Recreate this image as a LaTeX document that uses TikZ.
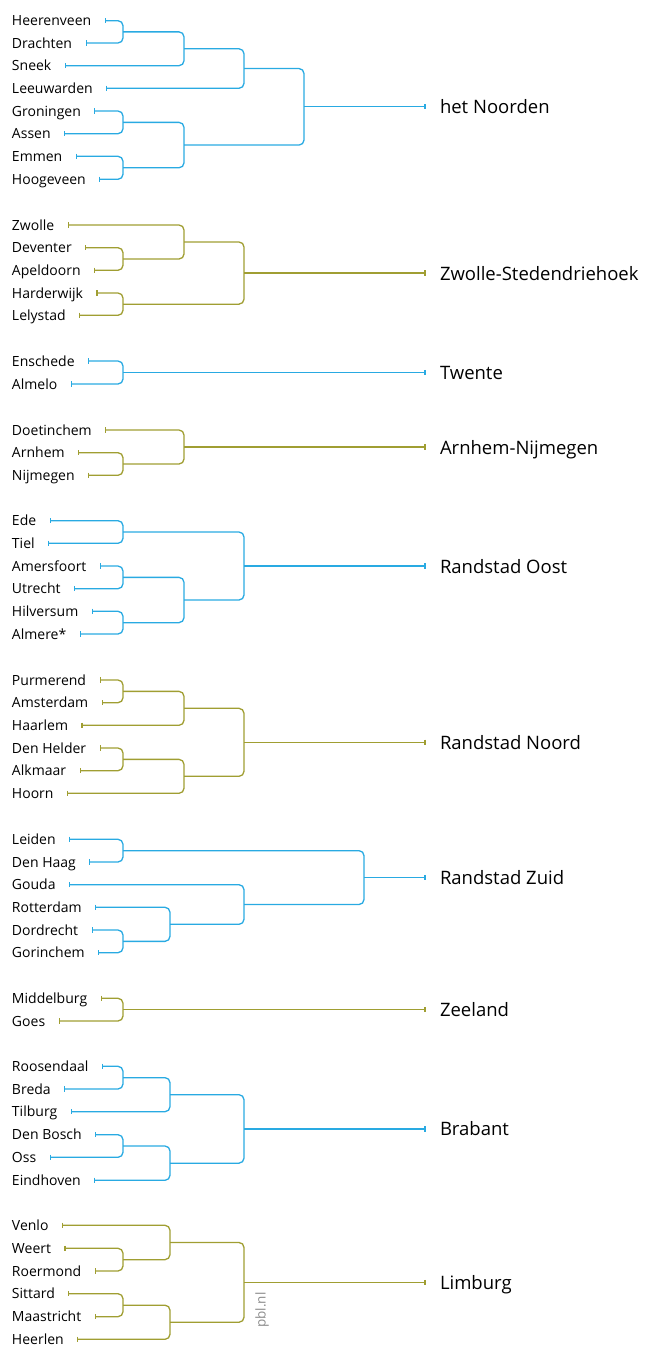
\documentclass[tikz,border=0pt]{standalone}
\usepackage{fontspec}
\setmainfont{Open Sans}
\usetikzlibrary{calc}
\definecolor{cb}{RGB}{41,170,226}
\definecolor{co}{RGB}{160,158,50}
\definecolor{wm}{RGB}{140,140,140}
\tikzset{
  leaf/.style={anchor=base west, inner sep=0pt, outer sep=0pt, text=black, font=\fontsize{14}{16}\selectfont},
  glabel/.style={anchor=base west, inner sep=0pt, outer sep=0pt, text=black, font=\fontsize{18.5}{20}\selectfont},
  conn/.style={line width=1.3pt, rounded corners=5pt},
  tickmark/.style={line width=1.1pt},
}
\newcommand\myleaf[3]{%
  \node[leaf] (#1) at (12,#2+5) {#3};
  \coordinate (#1y) at (0,#2);
  \coordinate (#1s) at ($(#1.east |- #1y)+(14,0)$);
  \draw[tickmark] ([yshift=2.6pt]#1s) -- ([yshift=-2.6pt]#1s);
}
\newcommand\mymerge[4]{%
  \coordinate (#1m) at ($(#3)!.5!(#4)$);
  \coordinate (#1) at (#1m -| #2);
  \draw[conn] (#3) -| (#1) |- (#4);
}
\newcommand\myroot[3]{%
  \coordinate (#1e) at (#1 -| c425);
  \draw[conn] (#1) -- (#1e);
  \draw[tickmark] ([yshift=2.6pt]#1e) -- ([yshift=-2.6pt]#1e);
  \node[glabel] (#2) at ($(#1e)+(15,7)$) {#3};
}
\begin{document}
\begin{tikzpicture}[x=1pt,y=-1pt]
\useasboundingbox (0,0) rectangle (657,1347);
\coordinate (c123) at (123,0);
\coordinate (c170) at (170,0);
\coordinate (c184) at (184,0);
\coordinate (c244) at (244,0);
\coordinate (c304) at (304,0);
\coordinate (c364) at (364,0);
\coordinate (c425) at (425,0);

% het Noorden
\begin{scope}[color=cb]
\myleaf{hee}{20.7}{Heerenveen}
\myleaf{dra}{43}{Drachten}
\myleaf{sne}{65.7}{Sneek}
\myleaf{lee}{88.3}{Leeuwarden}
\myleaf{gro}{111}{Groningen}
\myleaf{ass}{133.7}{Assen}
\myleaf{emm}{156.3}{Emmen}
\myleaf{hoo}{179.3}{Hoogeveen}
\mymerge{a1}{c123}{hees}{dras}
\mymerge{a2}{c184}{a1}{snes}
\mymerge{a3}{c244}{a2}{lees}
\mymerge{a4}{c123}{gros}{asss}
\mymerge{a5}{c123}{emms}{hoos}
\mymerge{a6}{c184}{a4}{a5}
\mymerge{a7}{c304}{a3}{a6}
\myroot{a7}{gN}{het Noorden}
\end{scope}

% Zwolle-Stedendriehoek
\begin{scope}[color=co]
\myleaf{zwo}{225}{Zwolle}
\myleaf{dev}{247.7}{Deventer}
\myleaf{ape}{270.3}{Apeldoorn}
\myleaf{har}{293}{Harderwijk}
\myleaf{lel}{315.3}{Lelystad}
\mymerge{b1}{c123}{devs}{apes}
\mymerge{b2}{c184}{zwos}{b1}
\mymerge{b3}{c123}{hars}{lels}
\mymerge{b4}{c244}{b2}{b3}
\myroot{b4}{gZ}{Zwolle-Stedendriehoek}
\end{scope}

% Twente
\begin{scope}[color=cb]
\myleaf{ens}{361}{Enschede}
\myleaf{alm}{384}{Almelo}
\mymerge{c1}{c123}{enss}{alms}
\myroot{c1}{gT}{Twente}
\end{scope}

% Arnhem-Nijmegen
\begin{scope}[color=co]
\myleaf{doe}{430}{Doetinchem}
\myleaf{arn}{452.7}{Arnhem}
\myleaf{nij}{475.3}{Nijmegen}
\mymerge{d1}{c123}{arns}{nijs}
\mymerge{d2}{c184}{does}{d1}
\myroot{d2}{gA}{Arnhem-Nijmegen}
\end{scope}

% Randstad Oost
\begin{scope}[color=cb]
\myleaf{ede}{520.7}{Ede}
\myleaf{tie}{543.3}{Tiel}
\myleaf{ame}{566}{Amersfoort}
\myleaf{utr}{588.7}{Utrecht}
\myleaf{hil}{611.3}{Hilversum}
\myleaf{alr}{634}{Almere*}
\mymerge{e1}{c123}{edes}{ties}
\mymerge{e2}{c123}{ames}{utrs}
\mymerge{e3}{c123}{hils}{alrs}
\mymerge{e4}{c184}{e2}{e3}
\mymerge{e5}{c244}{e1}{e4}
\myroot{e5}{gRO}{Randstad Oost}
\end{scope}

% Randstad Noord
\begin{scope}[color=co]
\myleaf{pur}{680}{Purmerend}
\myleaf{ams}{702.7}{Amsterdam}
\myleaf{haa}{725.3}{Haarlem}
\myleaf{dhe}{748}{Den Helder}
\myleaf{alk}{770.7}{Alkmaar}
\myleaf{hrn}{793.3}{Hoorn}
\mymerge{f1}{c123}{purs}{amss}
\mymerge{f2}{c184}{f1}{haas}
\mymerge{f3}{c123}{dhes}{alks}
\mymerge{f4}{c184}{f3}{hrns}
\mymerge{f5}{c244}{f2}{f4}
\myroot{f5}{gRN}{Randstad Noord}
\end{scope}

% Randstad Zuid
\begin{scope}[color=cb]
\myleaf{lei}{839.3}{Leiden}
\myleaf{dhg}{862}{Den Haag}
\myleaf{gou}{884.7}{Gouda}
\myleaf{rot}{907.3}{Rotterdam}
\myleaf{dor}{930}{Dordrecht}
\myleaf{gor}{952.7}{Gorinchem}
\mymerge{g1}{c123}{leis}{dhgs}
\mymerge{g2}{c123}{dors}{gors}
\mymerge{g3}{c170}{rots}{g2}
\mymerge{g4}{c244}{gous}{g3}
\mymerge{g5}{c364}{g1}{g4}
\myroot{g5}{gRZ}{Randstad Zuid}
\end{scope}

% Zeeland
\begin{scope}[color=co]
\myleaf{mid}{998.3}{Middelburg}
\myleaf{goe}{1021}{Goes}
\mymerge{h1}{c123}{mids}{goes}
\myroot{h1}{gZe}{Zeeland}
\end{scope}

% Brabant
\begin{scope}[color=cb]
\myleaf{roo}{1066.3}{Roosendaal}
\myleaf{bre}{1089}{Breda}
\myleaf{til}{1111.7}{Tilburg}
\myleaf{dbo}{1134.7}{Den Bosch}
\myleaf{oss}{1157.3}{Oss}
\myleaf{ein}{1180.3}{Eindhoven}
\mymerge{i1}{c123}{roos}{bres}
\mymerge{i2}{c170}{i1}{tils}
\mymerge{i3}{c123}{dbos}{osss}
\mymerge{i4}{c170}{i3}{eins}
\mymerge{i5}{c244}{i2}{i4}
\myroot{i5}{gB}{Brabant}
\end{scope}

% Limburg
\begin{scope}[color=co]
\myleaf{ven}{1225.3}{Venlo}
\myleaf{wee}{1248.3}{Weert}
\myleaf{roe}{1271}{Roermond}
\myleaf{sit}{1293.7}{Sittard}
\myleaf{maa}{1316.7}{Maastricht}
\myleaf{hrl}{1339.3}{Heerlen}
\mymerge{j1}{c123}{wees}{roes}
\mymerge{j2}{c170}{vens}{j1}
\mymerge{j3}{c123}{sits}{maas}
\mymerge{j4}{c170}{j3}{hrls}
\mymerge{j5}{c244}{j2}{j4}
\myroot{j5}{gL}{Limburg}
\end{scope}

\node[rotate=90, text=wm, inner sep=0pt, font=\fontsize{13.5}{15}\selectfont] (pbl) at (262,1310) {pbl.nl};
\end{tikzpicture}
\end{document}
